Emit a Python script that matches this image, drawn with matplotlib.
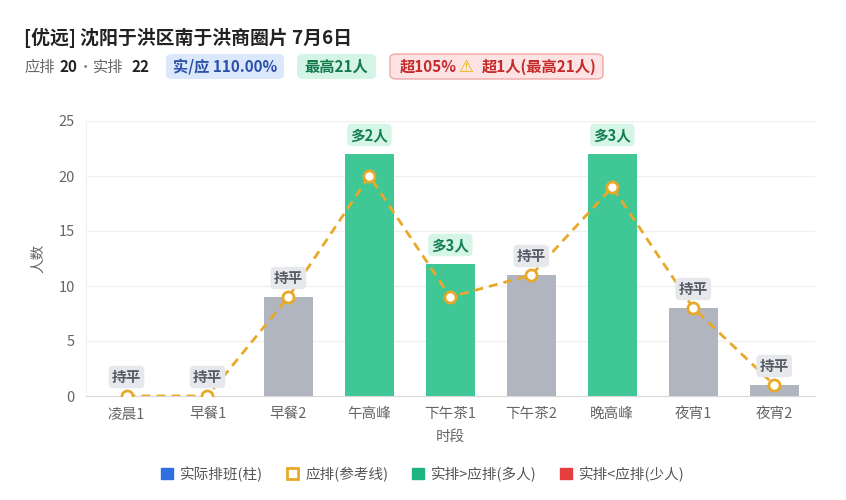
import numpy as np
import matplotlib.pyplot as plt
from matplotlib.patches import Patch, FancyBboxPatch

plt.rcParams['font.family'] = ['Noto Sans CJK SC', 'DejaVu Sans']

# data
periods = ['凌晨1', '早餐1', '早餐2', '午高峰', '下午茶1', '下午茶2', '晚高峰', '夜宵1', '夜宵2']
actual = [0, 0, 9, 22, 12, 11, 22, 8, 1]
planned = [0, 0, 9, 20, 9, 11, 19, 8, 1]

GREEN = '#3fc796'
GRAY = '#b1b5c0'
ORANGE = '#e8a928'

W, H = 846, 500
fig = plt.figure(figsize=(W / 100, H / 100), dpi=100)
ax = fig.add_axes([0.1017, 0.208, 0.8613, 0.55])

x = np.arange(len(periods))
cols = [GREEN if a > p else ('#e53e3e' if a < p else GRAY) for a, p in zip(actual, planned)]
ax.bar(x, actual, width=0.6, color=cols, zorder=2)
ax.plot(x, planned, color=ORANGE, lw=2, ls=(0, (3.2, 2.2)), marker='o', ms=8,
        mfc='white', mec=ORANGE, mew=2, zorder=3)

for i, (a, p) in enumerate(zip(actual, planned)):
    d = a - p
    if d > 0:
        txt, fc, tc = f'多{d}人', '#d5f5e7', '#15804f'
    elif d < 0:
        txt, fc, tc = f'少{-d}人', '#fde3e3', '#c42b2b'
    else:
        txt, fc, tc = '持平', '#e6e8ec', '#555a64'
    ax.text(i, max(a, p) + 1.0, txt, ha='center', va='bottom', fontsize=10.5,
            fontweight='bold', color=tc, zorder=4,
            bbox=dict(boxstyle='round,pad=0.22,rounding_size=0.3', fc=fc, ec='none'))

ax.set_xlim(-0.5, len(periods) - 0.5)
ax.set_ylim(0, 25)
ax.set_yticks([0, 5, 10, 15, 20, 25])
ax.set_xticks(x)
ax.set_xticklabels(periods)
ax.tick_params(axis='both', length=0, colors='#666666', labelsize=10.5, pad=8)
ax.grid(axis='y', color='#f0f0f0', lw=1, zorder=0)
for s in ['top', 'right']:
    ax.spines[s].set_visible(False)
ax.spines['left'].set_color('#f0f0f0')
ax.spines['bottom'].set_color('#d8d8d8')
ax.set_xlabel('时段', color='#666666', fontsize=10.5, labelpad=6)
ax.set_ylabel('人数', color='#666666', fontsize=10.5, labelpad=10)

# header
fig.text(24 / W, 1 - 38 / H, '[优远] 沈阳于洪区南于洪商圈片 7月6日', fontsize=13.6,
         fontweight='bold', color='#222222', va='center')
y2 = 1 - 67 / H
fig.text(24 / W, y2, '应排', fontsize=11, color='#666666', va='center')
fig.text(59 / W, y2, '20', fontsize=11, color='#222222', fontweight='bold', va='center')
fig.text(86 / W, y2, '·', fontsize=11, color='#888888', va='center', ha='center')
fig.text(93 / W, y2, '实排', fontsize=11, color='#666666', va='center')
fig.text(131 / W, y2, '22', fontsize=11, color='#222222', fontweight='bold', va='center')


def badge(x0, x1, fc, ec='none'):
    fig.patches.append(FancyBboxPatch((x0 / W, 1 - 79 / H), (x1 - x0) / W, 25 / H,
                                      boxstyle='round,pad=0,rounding_size=0.008',
                                      transform=fig.transFigure, fc=fc, ec=ec, lw=1))


badge(166, 284, '#dbe7fb')
fig.text(225 / W, y2, '实/应 110.00%', fontsize=11, color='#2a50a8', fontweight='bold',
         va='center', ha='center')
badge(297, 376, '#d4f5e6')
fig.text(336.5 / W, y2, '最高21人', fontsize=11, color='#137a4b', fontweight='bold',
         va='center', ha='center')
badge(390, 603, '#fde3e3', '#f0a8a8')
fig.text(400 / W, y2, '超105%', fontsize=11, color='#c42b2b', fontweight='bold', va='center')
fig.text(466 / W, y2, '⚠', fontsize=12, color='#e8b400', va='center', ha='center',
         family='DejaVu Sans')
fig.text(482 / W, y2, '超1人(最高21人)', fontsize=11, color='#c42b2b', fontweight='bold',
         va='center')

# legend
handles = [Patch(fc='#2f6fe0', ec='#2f6fe0'),
           Patch(fc='white', ec=ORANGE, lw=2),
           Patch(fc='#1cb57f', ec='#1cb57f'),
           Patch(fc='#e53e3e', ec='#e53e3e')]
labels = ['实际排班(柱)', '应排(参考线)', '实排>应排(多人)', '实排<应排(少人)']
leg = fig.legend(handles, labels, loc='center', bbox_to_anchor=(0.5, 1 - 474 / H),
                 ncol=4, frameon=False, fontsize=10.5, handlelength=0.8, handleheight=0.8,
                 handletextpad=0.5, columnspacing=1.6)
for t in leg.get_texts():
    t.set_color('#555555')

fig.savefig('out.png', dpi=100)
